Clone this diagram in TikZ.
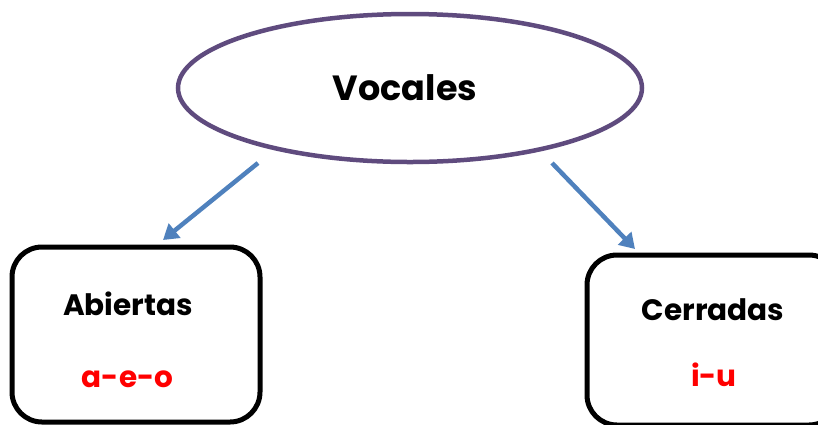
\documentclass[tikz,border=0pt]{standalone}
\usepackage{fontspec}
\setmainfont{Poppins}
\usetikzlibrary{arrows.meta,shapes.geometric}
\definecolor{ellpurple}{HTML}{5F4B7E}
\definecolor{arrblue}{HTML}{4F81BD}
\tikzset{
  topell/.style={draw=ellpurple, line width=4.5pt, ellipse, minimum width=464pt, minimum height=148pt, inner sep=0pt},
  catbox/.style={draw=black, line width=5pt, rounded corners=30pt, inner sep=0pt},
  conn/.style={draw=arrblue, line width=4.5pt, -{Triangle[length=15pt,width=18pt]}},
  headtxt/.style={font=\bfseries\fontsize{29.5pt}{34pt}\selectfont, text=black, anchor=base},
  vowtxt/.style={font=\bfseries\fontsize{29.5pt}{34pt}\selectfont, text=red, anchor=base},
}
\begin{document}
\begin{tikzpicture}[x=1pt,y=1pt]
\useasboundingbox (0,0) rectangle (818,-424);
\node[topell] (voc) at (410,-88) {};
\node[headtxt, font=\bfseries\fontsize{35pt}{40pt}\selectfont] (voct) at (405,-100) {Vocales};
\node[catbox, minimum width=248pt, minimum height=175pt] (abox) at (136,-334.5) {};
\node[catbox, minimum width=252pt, minimum height=170pt] (cbox) at (713,-340) {};
\node[headtxt] (abt) at (128,-315) {Abiertas};
\node[vowtxt] (abv) at (127.5,-387) {a-e-o};
\node[headtxt] (cet) at (713,-320) {Cerradas};
\node[vowtxt] (cev) at (714,-386) {i-u};
\coordinate (l1) at (258,-163);
\coordinate (l2) at (163,-240);
\coordinate (r1) at (552,-163);
\coordinate (r2) at (635,-249);
\draw[conn] (l1) -- (l2);
\draw[conn] (r1) -- (r2);
\end{tikzpicture}
\end{document}
